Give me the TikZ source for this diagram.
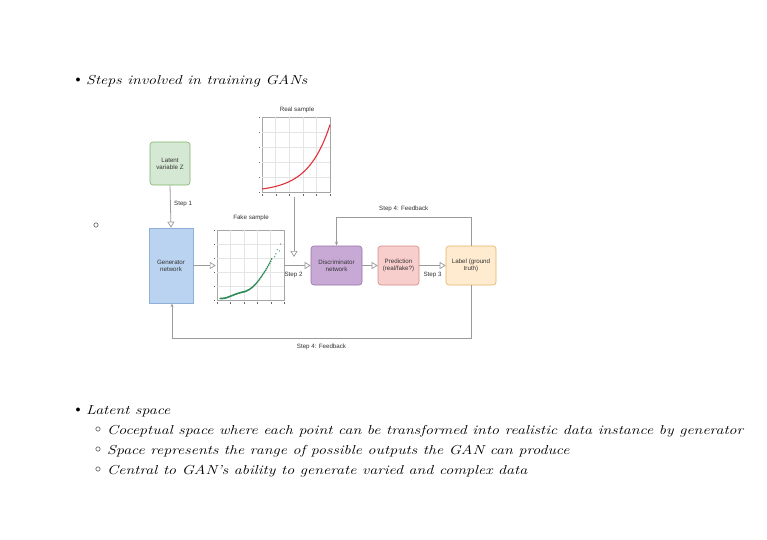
\documentclass[tikz,border=0pt]{standalone}
\usepackage{fontspec}
\usepackage{tikz}
\usetikzlibrary{arrows.meta}
\newfontfamily\diagfont{Liberation Sans}

\definecolor{flowgray}{HTML}{9A9A9A}
\definecolor{latfill}{HTML}{D5E8D4}
\definecolor{latdraw}{HTML}{82B366}
\definecolor{genfill}{HTML}{B9D3F0}
\definecolor{gendraw}{HTML}{8EAFD8}
\definecolor{discfill}{HTML}{C8A9D6}
\definecolor{discdraw}{HTML}{9673A6}
\definecolor{predfill}{HTML}{F8CECC}
\definecolor{preddraw}{HTML}{D48A87}
\definecolor{truthfill}{HTML}{FFEBCF}
\definecolor{truthdraw}{HTML}{E6B566}
\definecolor{curvered}{HTML}{E0323C}
\definecolor{dotgreen}{HTML}{2E8B57}

\tikzset{
  block/.style={draw, line width=0.6pt, rounded corners=3pt, align=center,
    font=\diagfont\fontsize{6.2}{7}\selectfont, text=black!80, inner sep=1pt},
  flow/.style={draw=flowgray, line width=0.8pt,
    -{Triangle[open, length=6pt, width=7pt, line width=0.7pt]}},
  back/.style={draw=flowgray, line width=0.8pt, -{Stealth[length=4pt, width=3pt]}},
  steplbl/.style={font=\diagfont\fontsize{6.2}{7}\selectfont, text=black!80},
  plotbox/.style={draw=black!35, line width=0.5pt, inner sep=0pt},
  plotgrid/.style={draw=black!10, line width=0.3pt},
  bullettext/.style={anchor=base west, inner sep=0pt, xscale=1.23,
    font=\fontsize{13}{15}\selectfont\itshape},
  hollow/.style={inner sep=0pt, font=\large},
}

\begin{document}
\begin{tikzpicture}[x=1pt, y=-1pt]
  \fill[white] (0,0) rectangle (767,539);
  \useasboundingbox (0,0) rectangle (767,539);

  % first bullet
  \node[inner sep=0pt] (b1) at (78,80) {$\bullet$};
  \node[bullettext] (t1) at (86,84) {Steps involved in training GANs};
  \node[hollow] (c0) at (96,226) {$\circ$};

  % blocks
  \node[block, fill=latfill, draw=latdraw, minimum width=40pt, minimum height=43pt]
    (latent) at (170,163.5) {Latent\\variable Z};
  \node[block, fill=genfill, draw=gendraw, rounded corners=0pt,
    minimum width=44pt, minimum height=75pt] (gen) at (171,265.5) {Generator\\network};
  \node[block, fill=discfill, draw=discdraw, minimum width=51pt, minimum height=39pt]
    (disc) at (336.5,265.5) {Discriminator\\network};
  \node[block, fill=predfill, draw=preddraw, minimum width=41pt, minimum height=39pt]
    (pred) at (398.5,265.5) {Prediction\\(real/fake?)};
  \node[block, fill=truthfill, draw=truthdraw, minimum width=50pt, minimum height=39pt]
    (truth) at (471,265.5) {Label (ground\\truth)};

  % real sample plot
  \node[plotbox, minimum width=68pt, minimum height=75pt] (realplot) at (296,154.5) {};
  \foreach \i in {1,...,4} {
    \draw[plotgrid] (262+13.6*\i,117) -- (262+13.6*\i,192);
    \draw[plotgrid] (262,117+15*\i) -- (330,117+15*\i);
  }
  \foreach \i in {0,...,5} {
    \fill[black!60] (262+13.6*\i,194) rectangle ++(0.8,1.6);
    \fill[black!60] (258.5,192-15*\i) rectangle ++(1.4,0.8);
  }
  \draw[curvered, line width=1.1pt] plot[domain=0:1, samples=40, smooth]
    ({262+68*\x},{192-75*0.04*exp(3.11*\x)});
  \node[steplbl] (realttl) at (297,110) {Real sample};

  % fake sample plot
  \node[plotbox, minimum width=67pt, minimum height=70pt] (fakeplot) at (250.5,265) {};
  \foreach \i in {1,...,4} {
    \draw[plotgrid] (217+13.4*\i,230) -- (217+13.4*\i,300);
    \draw[plotgrid] (217,230+14*\i) -- (284,230+14*\i);
  }
  \foreach \i in {0,...,5} {
    \fill[black!60] (217+13.4*\i,302) rectangle ++(0.8,1.6);
    \fill[black!60] (213.5,300-14*\i) rectangle ++(1.4,0.8);
  }
  \foreach \t in {0.05,0.065,...,0.82}
    \fill[dotgreen] ({217+67*\t},{300-70*0.0247*exp(3.89*\t)+0.8*sin(900*\t)}) circle (1pt);
  \foreach \t/\f in {0.88/0.66, 0.9/0.72, 0.93/0.7, 0.95/0.8, 0.86/0.62}
    \fill[dotgreen!70] ({217+67*\t},{300-70*\f}) circle (0.8pt);
  \node[steplbl] (fakettl) at (251,218) {Fake sample};

  % forward flow
  \coordinate (join) at (294,257);
  \draw[flow] (latent.south) -- node[steplbl, right, pos=0.45] {Step 1} (gen.north);
  \draw[flow] (gen.east) -- ([xshift=-1pt]fakeplot.west |- gen.east);
  \draw[flow] ([yshift=-5pt]realplot.south -| join) -- (join);
  \draw[flow] (fakeplot.east |- disc.west) -- node[steplbl, below=3pt, pos=0.35] {Step 2} (disc.west);
  \draw[flow] (disc.east) -- (pred.west);
  \draw[flow] (pred.east) -- node[steplbl, below=3pt] {Step 3} (truth.west);

  % feedback loops
  \draw[back] (truth.north) -- ++(0,-28) -| node[steplbl, pos=0.25, above=2pt] {Step 4: Feedback} (disc.north);
  \draw[back] (truth.south) -- ++(0,53) -| node[steplbl, pos=0.25, below=2pt] {Step 4: Feedback} ([xshift=1pt]gen.south);

  % second bullet
  \node[inner sep=0pt] (b2) at (78,410) {$\bullet$};
  \node[bullettext] (t2) at (86,414) {Latent space};
  \node[hollow] (c1) at (98,430) {$\circ$};
  \node[bullettext] (t3) at (107,434) {Coceptual space where each point can be transformed into realistic data instance by generator};
  \node[hollow] (c2) at (98,450) {$\circ$};
  \node[bullettext] (t4) at (107,454) {Space represents the range of possible outputs the GAN can produce};
  \node[hollow] (c3) at (98,470) {$\circ$};
  \node[bullettext] (t5) at (107,474) {Central to GAN's ability to generate varied and complex data};
\end{tikzpicture}
\end{document}
